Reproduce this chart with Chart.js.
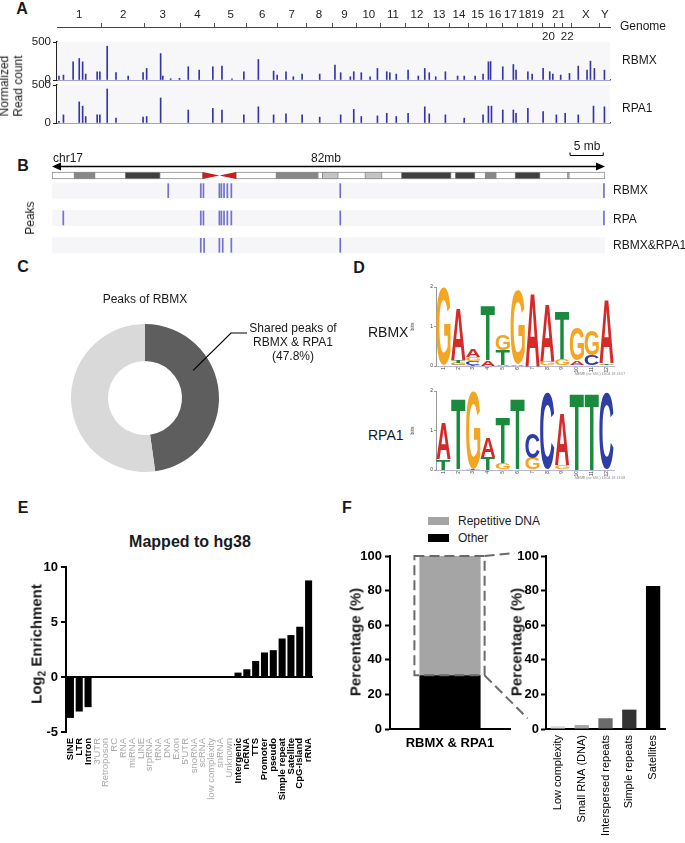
<!DOCTYPE html>
<html>
<head>
<meta charset="utf-8">
<script src="https://cdn.jsdelivr.net/npm/chart.js@4.4.1/dist/chart.umd.min.js"></script>
<style>
  body { margin: 0; background: #fff; }
  #fig { position: relative; width: 685px; height: 843px; overflow: hidden;
         font-family: "Liberation Sans", Arial, Helvetica, sans-serif; color: #1a1a1a; }
  #fig canvas { position: absolute; }
  .t { position: absolute; white-space: nowrap; line-height: 1; }
  .sw { position: absolute; }
</style>
</head>
<body>
<div id="fig"></div>
<script>
// ---- A: genome-wide tracks ----
const chrNames = ['1','2','3','4','5','6','7','8','9','10','11','12','13','14','15','16','17','18','19','20','21','22','X','Y'];
const chrSizes = [248,242,198,190,181,171,159,145,138,134,135,133,114,107,102,90,83,80,59,64,47,51,156,57];
const lowerRowChr = ['20','22'];

const rbmxPeakPos = [11,36,90,124,143,160,224,239,280,329,397,480,500,578,590,634,683,732,793,869,920,976,1042,1123,1208,1228,1277,1318,1367,1465,1550,1582,1636,1655,1697,1746,1787,1839,1856,1892,1958,2015,2051,2076,2112,2166,2234,2271,2332,2376,2406,2418,2486,2545,2560,2626,2650,2711,2748,2765,2809,2858,2907,2956,2975,2997,3053];
const rbmxPeakVal = [52,65,239,283,239,78,109,109,444,96,52,96,152,348,52,17,22,174,130,174,183,17,109,270,117,65,109,43,78,78,196,96,43,109,96,43,152,109,96,78,130,52,152,96,43,109,52,52,52,78,239,243,174,204,130,109,78,152,109,78,65,87,183,130,248,152,130];
const rpa1PeakPos = [11,36,124,143,160,224,239,280,329,480,500,578,732,869,920,1042,1123,1208,1277,1367,1465,1582,1655,1697,1787,1839,1892,1958,2051,2076,2166,2271,2376,2406,2423,2486,2545,2560,2626,2711,2785,2834,2907,2992,3053];
const rpa1PeakVal = [21,107,278,222,85,107,107,448,64,77,85,329,171,192,171,107,213,107,120,107,77,107,179,85,94,128,85,128,213,120,107,64,107,222,222,171,171,128,192,150,107,128,107,222,213];

// ---- B: chr17 view (Mb) ----
const chr17Len = 83.26;
const centromere = [22.7, 27.7];
const bandStart = [3.3, 11.0, 33.7, 40.7, 47.1, 52.6, 60.7, 65.2, 69.7, 77.6];
const bandEnd   = [6.5, 16.3, 40.1, 43.1, 49.7, 60.1, 63.7, 66.9, 73.5, 77.9];
const bandStain = ['gpos50','gpos75','gpos50','gpos25','gpos25','gpos75','gpos75','gpos50','gpos75','gpos50'];
const scaleBarMb = [78, 83];
const peakRows = ['RBMX', 'RPA', 'RBMX&RPA1'];
const peaksRBMX = [17.5, 22.4, 22.8, 25.2, 25.5, 25.9, 26.4, 27.0, 43.4, 83.1];
const peaksRPA = [1.7, 22.4, 22.8, 25.2, 25.5, 25.9, 26.4, 27.0, 43.4, 83.1];
const peaksShared = [22.4, 22.9, 25.2, 25.7, 27.0, 43.4];

// ---- C ----
const sharedPeaksPct = 47.8;
const rbmxOnlyPct = 52.2;

// ---- D: motif logos (bits) ----
const motifPos = ['1','2','3','4','5','6','7','8','9','10','11','12'];
const rbmxA = [0, 1.3, 0.18, 0.14, 0.03, 0.05, 1.85, 1.45, 0, 0.1, 0, 1.6];
const rbmxC = [0, 0.03, 0.09, 0, 0, 0, 0, 0.02, 0.02, 0.03, 0.28, 0];
const rbmxG = [1.97, 0.05, 0.11, 0, 0.4, 1.85, 0, 0.1, 0.15, 0.82, 0.62, 0.03];
const rbmxT = [0, 0.07, 0.03, 1.39, 0.38, 0, 0, 0, 1.2, 0, 0, 0.04];
const rpa1A = [0.93, 0, 0, 0.5, 0, 0, 0, 0, 1.3, 0, 0, 0];
const rpa1C = [0, 0.02, 0, 0, 0.02, 0.02, 0.62, 1.95, 0, 0, 0, 1.95];
const rpa1G = [0, 0, 1.95, 0, 0.15, 0, 0.3, 0, 0.12, 0, 0, 0];
const rpa1T = [0.27, 1.76, 0.03, 0.34, 1.15, 1.76, 0, 0, 0, 1.95, 1.95, 0];

// ---- E ----
const enrichCats = ['SINE','LTR','Intron',"3'UTR",'Retroposon','RC','RNA','miRNA','LINE','srpRNA','tRNA','DNA','Exon',"5'UTR",'snoRNA','scRNA','low complexity','snRNA','Unknown','Intergenic','ncRNA','TTS','Promoter','pseudo','Simple repeat','Satellite','CpG-Island','rRNA'];
const enrichLog2 = [-3.72,-3.14,-2.74,0,0,0,0,0,0,0,0,0,0,0,0,0,0,0,0,0.4,0.7,1.46,2.23,2.44,3.5,3.81,4.57,8.78];

// ---- F ----
const overlapCats = ['RBMX & RPA1'];
const otherPct = [31];
const repetitivePct = [69];
const repeatCats = ['Low complexity','Small RNA (DNA)','Interspersed repeats','Simple repeats','Satellites'];
const repeatPct = [1.6, 2.3, 6.2, 11.2, 82.7];

// ------------------------------------------------------------
Chart.defaults.font.family = '"Liberation Sans", Arial, Helvetica, sans-serif';
Chart.defaults.color = '#1a1a1a';
Chart.defaults.animation = false;
Chart.defaults.responsive = false;
Chart.defaults.devicePixelRatio = 1;
Chart.defaults.plugins.legend.display = false;
Chart.defaults.plugins.tooltip.enabled = false;

const fig = document.getElementById('fig');

function mk(x, y, w, h) {
  const c = document.createElement('canvas');
  c.width = w; c.height = h;
  c.style.left = x + 'px'; c.style.top = y + 'px';
  c.style.width = w + 'px'; c.style.height = h + 'px';
  fig.appendChild(c);
  return c.getContext('2d');
}

function txt(s, x, y, o = {}) {
  const d = document.createElement('div');
  d.className = 't';
  d.innerHTML = s;
  d.style.left = x + 'px'; d.style.top = y + 'px';
  d.style.fontSize = (o.size || 12) + 'px';
  if (o.bold) d.style.fontWeight = 'bold';
  if (o.color) d.style.color = o.color;
  if (o.lh) { d.style.lineHeight = o.lh; d.style.textAlign = 'center'; }
  const ax = o.align === 'left' ? '0' : (o.align === 'right' ? '-100%' : '-50%');
  d.style.transform = 'translate(' + ax + ',-50%)' + (o.rot ? ' rotate(' + o.rot + 'deg)' : '');
  fig.appendChild(d);
}

// panel letters
txt('A', 22, 9, {size: 16, bold: true});
txt('B', 23, 166, {size: 16, bold: true});
txt('C', 23, 267, {size: 16, bold: true});
txt('D', 359, 268, {size: 16, bold: true});
txt('E', 23, 508, {size: 16, bold: true});
txt('F', 347, 508, {size: 16, bold: true});

// ===================== A =====================
const chrStart = [];
let acc = 0;
chrSizes.forEach(s => { chrStart.push(acc); acc += s; });
const genomeLen = acc;
const chrMid = chrSizes.map((s, i) => chrStart[i] + s / 2);

new Chart(mk(0, 0, 685, 50), {
  type: 'scatter',
  data: { datasets: [] },
  options: {
    layout: { padding: { left: 57, right: 75, top: 0, bottom: 0 } },
    scales: {
      x: {
        type: 'linear', position: 'top', min: 0, max: genomeLen,
        afterFit: s => { s.height = 27; },
        afterBuildTicks: s => {
          s.ticks = chrStart.slice(1).map(v => ({ value: v })).concat(chrMid.map(v => ({ value: v })));
        },
        ticks: {
          autoSkip: false, maxRotation: 0, padding: 1, font: { size: 11.5 }, color: '#222',
          callback: v => {
            const i = chrMid.indexOf(v);
            return (i >= 0 && !lowerRowChr.includes(chrNames[i])) ? chrNames[i] : '';
          }
        },
        grid: { drawOnChartArea: false, tickLength: 4,
                tickColor: c => (c.tick && chrMid.includes(c.tick.value)) ? 'rgba(0,0,0,0)' : '#555' },
        border: { color: '#444' }
      },
      x2: {
        type: 'linear', position: 'bottom', min: 0, max: genomeLen,
        afterFit: s => { s.height = 22; },
        afterBuildTicks: s => {
          s.ticks = chrMid.filter((v, i) => lowerRowChr.includes(chrNames[i])).map(v => ({ value: v }));
        },
        ticks: { autoSkip: false, maxRotation: 0, padding: 2, font: { size: 11.5 }, color: '#222',
                 callback: v => chrNames[chrMid.indexOf(v)] },
        grid: { display: false, drawTicks: false },
        border: { display: false }
      },
      y: { display: false }
    }
  }
});

const trackBg = {
  id: 'trackBg',
  beforeDatasetsDraw(chart) {
    const a = chart.chartArea, ctx = chart.ctx;
    ctx.save();
    ctx.fillStyle = '#f7f7fa';
    ctx.fillRect(a.left, a.top, a.right - a.left, a.bottom - a.top);
    ctx.restore();
  }
};

function track(top, padTop, padBottom, pos, val) {
  return new Chart(mk(0, top, 685, 60), {
    type: 'bar',
    data: { datasets: [{
      data: pos.map((p, i) => ({ x: p, y: val[i] })),
      backgroundColor: '#3535a6', barThickness: 1
    }] },
    options: {
      layout: { padding: { left: 0, right: 75, top: padTop, bottom: padBottom } },
      scales: {
        x: { type: 'linear', offset: false, min: 0, max: genomeLen,
             afterFit: s => { s.height = 0; },
             ticks: { display: false }, grid: { display: false, drawTicks: false },
             border: { color: '#4545b5', width: 1.5 } },
        y: { min: 0, max: 500, afterFit: s => { s.width = 57; },
             ticks: { stepSize: 500, font: { size: 11.5 }, color: '#222', padding: 2 },
             grid: { drawOnChartArea: false, tickLength: 4, tickColor: '#222' },
             border: { color: '#222', width: 1.5 } }
      }
    },
    plugins: [trackBg]
  });
}
track(30, 12, 10, rbmxPeakPos, rbmxPeakVal);
track(75, 10, 12, rpa1PeakPos, rpa1PeakVal);

txt('Genome', 620, 26, {align: 'left'});
txt('RBMX', 622, 60, {align: 'left'});
txt('RPA1', 622, 108, {align: 'left'});
txt('Normalized<br>Read count', 12, 86, {rot: -90, lh: 1.15});

// ===================== B =====================
const stainColor = { gpos25: '#c4c4c4', gpos50: '#878787', gpos75: '#3f3f3f' };

const chromDecor = {
  id: 'chromDecor',
  afterDatasetsDraw(chart) {
    const ctx = chart.ctx, x = chart.scales.x;
    const yc = chart.scales.y.getPixelForValue(0);
    const x0 = x.getPixelForValue(centromere[0]), x1 = x.getPixelForValue(centromere[1]);
    const xm = (x0 + x1) / 2;
    ctx.save();
    ctx.fillStyle = '#c81e1e';
    ctx.beginPath(); ctx.moveTo(x0, yc - 3.5); ctx.lineTo(x0, yc + 3.5); ctx.lineTo(xm, yc); ctx.closePath(); ctx.fill();
    ctx.beginPath(); ctx.moveTo(x1, yc - 3.5); ctx.lineTo(x1, yc + 3.5); ctx.lineTo(xm, yc); ctx.closePath(); ctx.fill();
    // double arrow spanning the chromosome
    const xa = x.getPixelForValue(0), xb = x.getPixelForValue(chr17Len), ya = yc - 9;
    ctx.strokeStyle = '#000'; ctx.fillStyle = '#000'; ctx.lineWidth = 1.5;
    ctx.beginPath(); ctx.moveTo(xa + 6, ya); ctx.lineTo(xb - 6, ya); ctx.stroke();
    ctx.beginPath(); ctx.moveTo(xa, ya); ctx.lineTo(xa + 9, ya - 4); ctx.lineTo(xa + 9, ya + 4); ctx.closePath(); ctx.fill();
    ctx.beginPath(); ctx.moveTo(xb, ya); ctx.lineTo(xb - 9, ya - 4); ctx.lineTo(xb - 9, ya + 4); ctx.closePath(); ctx.fill();
    // 5 mb scale bar
    const s0 = x.getPixelForValue(scaleBarMb[0]), s1 = x.getPixelForValue(scaleBarMb[1]), ys = yc - 20;
    ctx.lineWidth = 1;
    ctx.beginPath(); ctx.moveTo(s0, ys - 3); ctx.lineTo(s0, ys); ctx.lineTo(s1, ys); ctx.lineTo(s1, ys - 3); ctx.stroke();
    ctx.restore();
  }
};

// datasets are painted last-to-first, so the stained bands go first to sit on top of the arms
new Chart(mk(0, 140, 685, 45), {
  type: 'bar',
  data: { labels: ['chr17'], datasets: [
    { data: bandStart.map((s, i) => ({ y: 'chr17', x: [s, bandEnd[i]] })),
      backgroundColor: bandStain.map(k => stainColor[k]), borderColor: '#8c8c8c', borderWidth: 1,
      borderSkipped: false, barThickness: 7, grouped: false },
    { data: [{ y: 'chr17', x: [0, centromere[0]] }, { y: 'chr17', x: [centromere[1], chr17Len] }],
      backgroundColor: '#fff', borderColor: '#8c8c8c', borderWidth: 1, borderSkipped: false,
      barThickness: 7, grouped: false }
  ] },
  options: {
    indexAxis: 'y',
    layout: { padding: { left: 52, right: 80, top: 30, bottom: 4 } },
    scales: { x: { type: 'linear', min: 0, max: chr17Len, display: false }, y: { display: false } }
  },
  plugins: [chromDecor]
});

const rowBg = {
  id: 'rowBg',
  beforeDatasetsDraw(chart) {
    const a = chart.chartArea, ctx = chart.ctx, y = chart.scales.y;
    ctx.save();
    ctx.fillStyle = '#f6f6f9';
    chart.data.labels.forEach((l, i) => {
      const yy = y.getPixelForValue(i);
      ctx.fillRect(a.left, yy - 8, a.right - a.left, 16);
    });
    ctx.restore();
  }
};

const peakSets = [peaksRBMX, peaksRPA, peaksShared];
new Chart(mk(0, 176, 685, 84), {
  type: 'bar',
  data: { labels: peakRows, datasets: peakSets.map((arr, r) => ({
    data: arr.map(p => ({ y: peakRows[r], x: [p - 0.08, p + 0.08] })),
    backgroundColor: '#7373cf', barThickness: 14, grouped: false
  })) },
  options: {
    indexAxis: 'y',
    layout: { padding: { left: 52, right: 80, top: 1, bottom: 1 } },
    scales: { x: { type: 'linear', min: 0, max: chr17Len, display: false }, y: { display: false } }
  },
  plugins: [rowBg]
});

txt('chr17', 53, 158, {align: 'left'});
txt('82mb', 326, 158);
txt('5 mb', 587, 146);
txt('RBMX', 613, 190, {align: 'left'});
txt('RPA', 613, 219, {align: 'left'});
txt('RBMX&amp;RPA1', 613, 245, {align: 'left'});
txt('Peaks', 30, 218, {rot: -90});

// ===================== C =====================
const leader = {
  id: 'leader',
  afterDraw(chart) {
    const arc = chart.getDatasetMeta(0).data[0];
    const p = arc.getProps(['x', 'y', 'startAngle', 'endAngle', 'innerRadius', 'outerRadius'], true);
    const a = p.startAngle + (p.endAngle - p.startAngle) * 0.35;
    const r = (p.innerRadius + p.outerRadius) / 2;
    const ctx = chart.ctx;
    ctx.save();
    ctx.strokeStyle = '#000'; ctx.lineWidth = 1.2;
    ctx.beginPath();
    ctx.moveTo(p.x + Math.cos(a) * r, p.y + Math.sin(a) * r);
    ctx.lineTo(p.x + 86, p.y - 65);
    ctx.lineTo(p.x + 102, p.y - 65);
    ctx.stroke();
    ctx.restore();
  }
};

new Chart(mk(0, 300, 340, 180), {
  type: 'doughnut',
  data: { labels: ['Shared with RPA1', 'RBMX only'], datasets: [{
    data: [sharedPeaksPct, rbmxOnlyPct], backgroundColor: ['#5e5e5e', '#d9d9d9'], borderWidth: 0
  }] },
  options: { cutout: '50%', layout: { padding: { left: 71, right: 121, top: 24, bottom: 8 } } },
  plugins: [leader]
});

txt('Peaks of RBMX', 145, 299);
txt('Shared peaks of', 293, 328);
txt('RBMX &amp; RPA1', 293, 342);
txt('(47.8%)', 293, 356);

// ===================== D =====================
const baseColor = { A: '#d42a2a', C: '#2e3ea6', G: '#f4a522', T: '#1a8a3c' };

function logoDatasets(m) {
  const bases = ['A', 'C', 'G', 'T'];
  const ranks = bases.map(() => ({ data: [], letters: [], letterColors: [], backgroundColor: 'rgba(0,0,0,0)' }));
  motifPos.forEach((p, i) => {
    const order = bases.slice().sort((a, b) => m[a][i] - m[b][i]);
    order.forEach((b, k) => {
      ranks[k].data.push(m[b][i]);
      ranks[k].letters.push(b);
      ranks[k].letterColors.push(baseColor[b]);
    });
  });
  return ranks;
}

const logoLetters = {
  id: 'logoLetters',
  afterDatasetsDraw(chart) {
    const ctx = chart.ctx;
    chart.data.datasets.forEach((ds, di) => {
      chart.getDatasetMeta(di).data.forEach((bar, i) => {
        const p = bar.getProps(['x', 'y', 'base', 'width'], true);
        const top = Math.min(p.y, p.base), h = Math.abs(p.base - p.y);
        if (h < 0.6) return;
        const left = p.x - p.width / 2;
        ctx.save();
        ctx.font = 'bold 100px "Liberation Sans", Arial, sans-serif';
        const mt = ctx.measureText(ds.letters[i]);
        const gw = mt.actualBoundingBoxLeft + mt.actualBoundingBoxRight;
        const gh = mt.actualBoundingBoxAscent + mt.actualBoundingBoxDescent;
        ctx.translate(left, top);
        ctx.scale(p.width / gw, h / gh);
        ctx.fillStyle = ds.letterColors[i];
        ctx.textAlign = 'left';
        ctx.textBaseline = 'alphabetic';
        ctx.fillText(ds.letters[i], mt.actualBoundingBoxLeft, mt.actualBoundingBoxAscent);
        ctx.restore();
      });
    });
  }
};

function logo(top, m) {
  return new Chart(mk(410, top, 210, 96), {
    type: 'bar',
    data: { labels: motifPos, datasets: logoDatasets(m) },
    options: {
      layout: { padding: { top: 4, right: 6, bottom: 2, left: 0 } },
      datasets: { bar: { categoryPercentage: 1, barPercentage: 0.96 } },
      scales: {
        x: { stacked: true, afterFit: s => { s.height = 11; },
             ticks: { maxRotation: 90, minRotation: 90, font: { size: 5 }, color: '#444', padding: 1 },
             grid: { display: false, drawTicks: false }, border: { color: '#b8b8d8' } },
        y: { stacked: true, min: 0, max: 2, afterFit: s => { s.width = 26; },
             ticks: { stepSize: 1, font: { size: 5 }, color: '#444', padding: 1 },
             grid: { drawOnChartArea: false, tickLength: 2, tickColor: '#999' },
             border: { color: '#999' },
             title: { display: true, text: 'bits', font: { size: 5 }, padding: 0, color: '#444' } }
      }
    },
    plugins: [logoLetters]
  });
}
logo(283, { A: rbmxA, C: rbmxC, G: rbmxG, T: rbmxT });
logo(387, { A: rpa1A, C: rpa1C, G: rpa1G, T: rpa1T });

txt('RBMX', 368, 332, {align: 'left', size: 14});
txt('RPA1', 368, 435, {align: 'left', size: 14});
txt('MEME (no SSC) 13.04.18 13:07', 600, 375, {size: 3.5, color: '#888'});
txt('MEME (no SSC) 13.04.18 13:08', 600, 479, {size: 3.5, color: '#888'});

// ===================== E =====================
new Chart(mk(0, 555, 330, 288), {
  type: 'bar',
  data: { labels: enrichCats, datasets: [{
    data: enrichLog2, backgroundColor: '#000', barPercentage: 0.8, categoryPercentage: 1
  }] },
  options: {
    layout: { padding: { top: 12, right: 17, bottom: 0, left: 0 } },
    scales: {
      x: { afterFit: s => { s.height = 111; },
           grid: { display: false, drawTicks: false }, border: { display: false },
           ticks: { autoSkip: false, maxRotation: 90, minRotation: 90, padding: 6,
                    color: c => enrichLog2[c.index] === 0 ? '#a8a8a8' : '#000',
                    font: c => ({ size: 9.5, weight: enrichLog2[c.index] === 0 ? 'normal' : 'bold' }) } },
      y: { min: -5, max: 10, afterFit: s => { s.width = 66; },
           ticks: { stepSize: 5, font: { size: 13, weight: 'bold' }, color: '#000', padding: 3 },
           grid: { color: c => (c.tick && c.tick.value === 0) ? '#000' : 'rgba(0,0,0,0)',
                   lineWidth: 2, tickLength: 5, tickColor: '#000', tickWidth: 2 },
           border: { color: '#000', width: 2 } }
    }
  }
});
txt('Mapped to hg38', 190, 542, {size: 16, bold: true});
txt('Log<sub style="font-size:10px">2</sub> Enrichment', 38, 644, {size: 15, bold: true, rot: -90});

// ===================== F =====================
const zoomLines = {
  id: 'zoomLines',
  afterDraw(chart) {
    const bar = chart.getDatasetMeta(1).data[0];
    const p = bar.getProps(['x', 'y', 'base', 'width'], true);
    const l = p.x - p.width / 2 - 5, r = p.x + p.width / 2 + 4, t = p.y, b = p.base;
    const ctx = chart.ctx;
    ctx.save();
    ctx.setLineDash([10, 5]);
    ctx.strokeStyle = '#6a6a6a'; ctx.lineWidth = 2;
    ctx.strokeRect(l, t, r - l, b - t);
    ctx.beginPath();
    ctx.moveTo(r, t); ctx.lineTo(r + 30, t - 3);
    ctx.moveTo(r, b); ctx.lineTo(r + 43, b + 43);
    ctx.stroke();
    ctx.restore();
  }
};

new Chart(mk(340, 545, 200, 298), {
  type: 'bar',
  data: { labels: overlapCats, datasets: [
    { label: 'Other', data: otherPct, backgroundColor: '#000' },
    { label: 'Repetitive DNA', data: repetitivePct, backgroundColor: '#a5a5a5' }
  ] },
  options: {
    layout: { padding: { top: 11, right: 30, bottom: 0, left: 0 } },
    datasets: { bar: { barPercentage: 0.51, categoryPercentage: 1 } },
    scales: {
      x: { stacked: true, afterFit: s => { s.height = 114; },
           grid: { display: false, drawTicks: false }, border: { color: '#000', width: 2 },
           ticks: { font: { size: 13, weight: 'bold' }, color: '#000', padding: 7 } },
      y: { stacked: true, min: 0, max: 100, afterFit: s => { s.width = 50; },
           ticks: { stepSize: 20, font: { size: 13, weight: 'bold' }, color: '#000', padding: 3 },
           grid: { drawOnChartArea: false, tickLength: 5, tickColor: '#000', tickWidth: 2 },
           border: { color: '#000', width: 2 } }
    }
  },
  plugins: [zoomLines]
});

const repeatShades = ['#dadada', '#a8a8a8', '#6b6b6b', '#333333', '#000000'];
new Chart(mk(500, 545, 180, 298), {
  type: 'bar',
  data: { labels: repeatCats, datasets: [{ data: repeatPct, backgroundColor: repeatShades }] },
  options: {
    layout: { padding: { top: 11, right: 15, bottom: 0, left: 0 } },
    datasets: { bar: { barPercentage: 0.6, categoryPercentage: 1 } },
    scales: {
      x: { afterFit: s => { s.height = 114; },
           grid: { display: false, drawTicks: false }, border: { color: '#000', width: 2 },
           ticks: { autoSkip: false, maxRotation: 90, minRotation: 90, font: { size: 11 }, color: '#000', padding: 6 } },
      y: { min: 0, max: 100, afterFit: s => { s.width = 46; },
           ticks: { stepSize: 20, font: { size: 13, weight: 'bold' }, color: '#000', padding: 2 },
           grid: { drawOnChartArea: false, tickLength: 5, tickColor: '#000', tickWidth: 2 },
           border: { color: '#000', width: 2 } }
    }
  }
});

// legend + axis titles for F
function swatch(x, y, w, h, col) {
  const d = document.createElement('div');
  d.className = 'sw';
  d.style.left = x + 'px'; d.style.top = y + 'px';
  d.style.width = w + 'px'; d.style.height = h + 'px';
  d.style.background = col;
  fig.appendChild(d);
}
swatch(428, 517, 21, 8, '#a5a5a5');
swatch(428, 534, 21, 8, '#000');
txt('Repetitive DNA', 458, 521, {align: 'left'});
txt('Other', 458, 538, {align: 'left'});
txt('Percentage (%)', 355, 642, {size: 15, bold: true, rot: -90});
txt('Percentage (%)', 516, 642, {size: 15, bold: true, rot: -90});
</script>
</body>
</html>
